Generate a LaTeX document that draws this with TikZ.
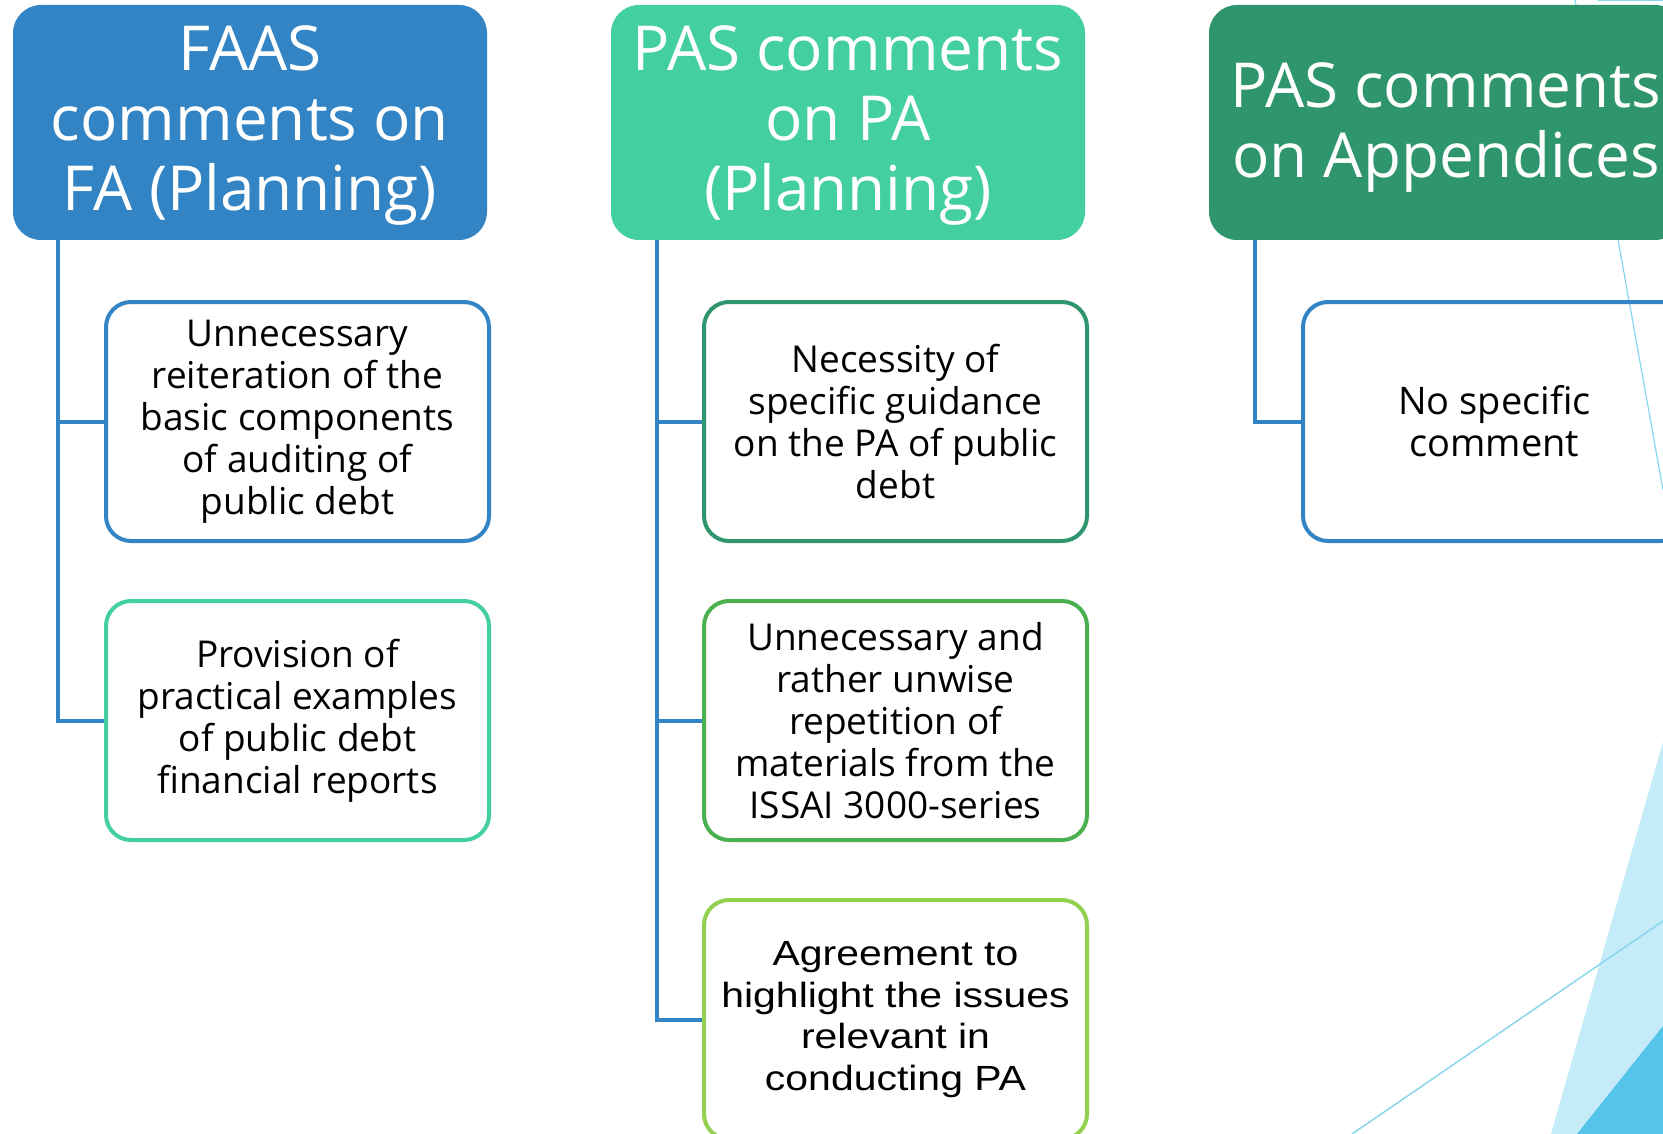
\documentclass[tikz,border=0pt]{standalone}
\usepackage{fontspec}
\setmainfont{Open Sans}
\newfontfamily\headfont{Open Sans}
\newfontfamily\bodyfont{Open Sans}
\newfontfamily\arialfont{Liberation Sans}[FakeStretch=1.17]

\definecolor{hdrblue}{RGB}{50,132,196}
\definecolor{hdrteal}{RGB}{68,207,160}
\definecolor{hdrgreen}{RGB}{47,149,108}
\definecolor{midgreen}{RGB}{74,176,80}
\definecolor{limegreen}{RGB}{146,208,80}
\definecolor{decopale}{RGB}{197,235,248}
\definecolor{decosky}{RGB}{85,196,234}
\definecolor{decoline}{RGB}{138,214,240}

\tikzset{
  header/.style={rounded corners=28pt, minimum width=474pt, minimum height=235pt,
    inner sep=0pt},
  headtext/.style={inner sep=0pt, align=center, text=white,
    font=\headfont\fontsize{62}{70}\selectfont},
  itembox/.style={draw, line width=4pt, rounded corners=25pt,
    minimum width=383pt, minimum height=239pt, inner sep=0pt, align=center,
    text=black, font=\bodyfont\fontsize{37}{42}\selectfont},
  conn/.style={draw=hdrblue, line width=4pt}
}

\begin{document}
\begin{tikzpicture}[x=1pt,y=-1pt]
\useasboundingbox (0,0) rectangle (1663,1134);
\clip (0,0) rectangle (1663,1134);
\fill[white] (0,0) rectangle (1663,1134);

% slide decoration in the right-hand corner
\fill[decopale] (1663,742) -- (1551,1134) -- (1663,1134) -- cycle;
\fill[decosky] (1663,1026) -- (1577,1134) -- (1663,1134) -- cycle;
\draw[decoline, line width=1.5pt] (1663,921) -- (1352,1134);
\draw[decoline, line width=1.2pt] (1575,0) -- (1663,490);
\fill[decoline] (1598,0) rectangle (1663,1.5);

% column headers
\node[header, fill=hdrblue] (h1) at (250,122.5) {};
\node[header, fill=hdrteal] (h2) at (848,122.5) {};
\node[header, fill=hdrgreen] (h3) at (1446,122.5) {};
\node[headtext] (h1t) at ([yshift=-3pt]h1.center) {FAAS\\comments on\\FA (Planning)};
\node[headtext] (h2t) at ([yshift=-3pt]h2.center) {PAS comments\\on PA\\(Planning)};
\node[headtext] (h3t) at ([yshift=-5pt]h3.center) {PAS comments\\on Appendices};

% comment boxes
\node[itembox, draw=hdrblue] (a1) at (297.5,421.5)
  {Unnecessary\\reiteration of the\\basic components\\of auditing of\\public debt};
\node[itembox, draw=hdrteal] (a2) at (297.5,720.5)
  {Provision of\\practical examples\\of public debt\\financial reports};
\node[itembox, draw=hdrgreen] (b1) at (895.5,421.5)
  {Necessity of\\specific guidance\\on the PA of public\\debt};
\node[itembox, draw=midgreen] (b2) at (895.5,720.5)
  {Unnecessary and\\rather unwise\\repetition of\\materials from the\\ISSAI 3000-series};
\node[itembox, draw=limegreen, font=\arialfont\fontsize{35}{41.5}\selectfont] (b3) at (895.5,1019.5)
  {Agreement to\\highlight the issues\\relevant in\\conducting PA};
\node[itembox, draw=hdrblue, font=\headfont\fontsize{38}{42}\selectfont] (c1) at (1494.5,421.5)
  {No specific\\comment};

% tree connectors
\coordinate (t1) at (58,240);
\coordinate (t2) at (657,240);
\coordinate (t3) at (1255,240);
\draw[conn] (t1) |- (a2.west);
\draw[conn] (t1 |- a1.west) -- (a1.west);
\draw[conn] (t2) |- (b3.west);
\draw[conn] (t2 |- b1.west) -- (b1.west);
\draw[conn] (t2 |- b2.west) -- (b2.west);
\draw[conn] (t3) |- (c1.west);
\end{tikzpicture}
\end{document}
